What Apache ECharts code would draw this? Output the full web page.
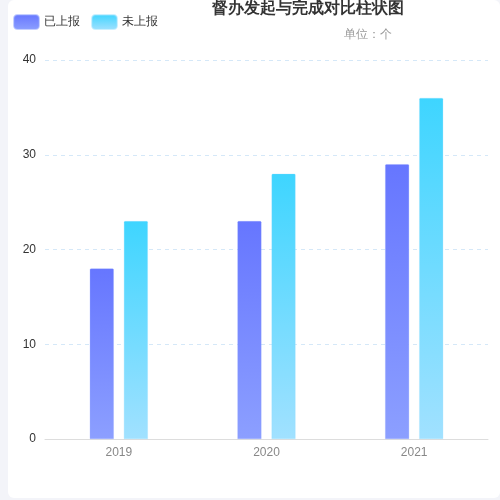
<!DOCTYPE html>
<html>
<head>
<meta charset="utf-8">
<script src="https://cdn.jsdelivr.net/npm/echarts@6/dist/echarts.min.js"></script>
<style>
html,body{margin:0;padding:0;width:500px;height:500px;background:#f3f4f9;overflow:hidden;}
#card{position:absolute;left:8px;top:0;width:492px;height:498px;background:#fff;border-radius:6px;}
#chart{width:492px;height:498px;}
</style>
</head>
<body>
<div id="card"><div id="chart"></div></div>
<script>
var categories = ['2019', '2020', '2021'];
var reported = [18, 23, 29];
var unreported = [23, 28, 36];
var seriesNames = ['已上报', '未上报'];
var yTicks = { min: 0, max: 40, interval: 10 };

function grad(top, bottom) {
  return new echarts.graphic.LinearGradient(0, 0, 0, 1, [
    { offset: 0, color: top },
    { offset: 1, color: bottom }
  ]);
}

var chart = echarts.init(document.getElementById('chart'));
chart.setOption({
  animation: false,
  title: [
    { text: '督办发起与完成对比柱状图', left: 204, top: 1, padding: 0,
      textStyle: { fontSize: 16, fontWeight: 'bold', color: '#333' } },
    { text: '单位：个', left: 336, top: 29, padding: 0,
      textStyle: { fontSize: 12, fontWeight: 'normal', color: '#999' } }
  ],
  legend: {
    left: 5, top: 14, padding: 0,
    itemWidth: 25, itemHeight: 14, itemGap: 11,
    icon: 'roundRect',
    textStyle: { fontSize: 12, color: '#333' },
    data: seriesNames
  },
  grid: { left: 37, right: 12, top: 60, bottom: 59, containLabel: false },
  xAxis: {
    type: 'category',
    data: categories,
    axisLine: { lineStyle: { color: '#ddd' } },
    axisTick: { show: false },
    axisLabel: { color: '#888', fontSize: 12, margin: 8 }
  },
  yAxis: {
    type: 'value',
    min: yTicks.min, max: yTicks.max, interval: yTicks.interval,
    axisLine: { show: false },
    axisTick: { show: false },
    axisLabel: { color: '#333', fontSize: 12, margin: 9 },
    splitLine: { lineStyle: { color: '#d5e8f8', type: [4, 4] } }
  },
  series: [
    { name: seriesNames[0], type: 'bar', data: reported, barWidth: 24, barGap: '42%',
      itemStyle: { color: grad('#6676ff', '#8c9fff'), borderRadius: [1, 1, 0, 0],
        borderColor: 'rgba(140,160,255,0.5)', borderWidth: 0.5 } },
    { name: seriesNames[1], type: 'bar', data: unreported, barWidth: 24,
      itemStyle: { color: grad('#3ed5ff', '#a1e1ff'), borderRadius: [1, 1, 0, 0],
        borderColor: 'rgba(150,225,255,0.5)', borderWidth: 0.5 } }
  ]
});
</script>
</body>
</html>
